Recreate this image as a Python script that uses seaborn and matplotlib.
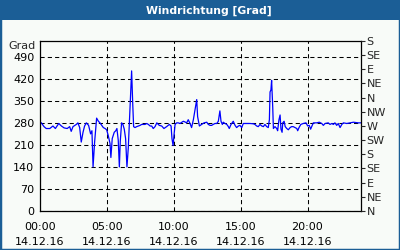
import numpy as np
import pandas as pd
import matplotlib
matplotlib.use("Agg")
import matplotlib.pyplot as plt
from matplotlib.patches import Rectangle
import seaborn as sns

# ---- data (minutes since 00:00 on 14.12.16, wind direction in degrees) ----
minutes = [0, 6, 18, 28, 44, 58, 69, 84, 96, 108, 122, 133, 140, 148, 163, 170, 178, 185, 193,
           200, 208, 218, 227, 233, 238, 245, 254, 262, 269, 277, 284, 292, 299, 306, 314,
           318, 324, 333, 340, 345, 351, 356, 360, 366, 372, 378, 384, 390, 396, 402, 407,
           411, 416, 420, 426, 434, 441, 449, 456, 471, 479, 486, 494, 501, 508, 516, 524,
           535, 546, 556, 568, 580, 588, 592, 597, 601, 606, 613, 620, 628, 643, 650, 658,
           665, 673, 680, 688, 694, 703, 707, 715, 725, 736, 748, 755, 763, 770, 777, 785,
           793, 800, 807, 812, 818, 822, 830, 838, 845, 849, 857, 867, 875, 882, 890, 897,
           905, 912, 927, 942, 957, 964, 972, 979, 987, 995, 1002, 1009, 1017, 1024, 1029,
           1032, 1036, 1039, 1044, 1047, 1054, 1062, 1066, 1072, 1077, 1081, 1086, 1089,
           1095, 1100, 1107, 1114, 1122, 1129, 1136, 1144, 1152, 1156, 1162, 1170, 1181,
           1193, 1201, 1208, 1214, 1226, 1241, 1253, 1264, 1271, 1279, 1293, 1301, 1309,
           1316, 1323, 1331, 1338, 1346, 1354, 1361, 1376, 1391, 1406, 1428, 1440]
direction = [282, 280, 268, 262, 262, 270, 262, 278, 270, 264, 262, 268, 253, 268, 275, 280, 265,
             219, 250, 270, 280, 272, 245, 255, 140, 219, 295, 285, 280, 272, 265, 262, 258,
             240, 215, 170, 230, 250, 255, 262, 225, 140, 220, 280, 275, 260, 230, 140, 200,
             300, 390, 445, 340, 268, 265, 268, 270, 272, 275, 275, 278, 275, 270, 270, 262,
             268, 280, 272, 270, 262, 268, 275, 270, 230, 208, 240, 275, 280, 280, 278, 285,
             283, 280, 290, 278, 265, 290, 315, 354, 300, 270, 275, 280, 282, 275, 272, 272,
             275, 278, 278, 285, 318, 285, 275, 282, 278, 275, 268, 262, 275, 285, 272, 265,
             270, 272, 265, 278, 278, 278, 277, 275, 270, 268, 275, 270, 268, 275, 268, 265,
             290, 378, 385, 415, 330, 262, 268, 262, 255, 290, 305, 260, 250, 280, 285, 268,
             262, 258, 265, 268, 268, 265, 262, 255, 265, 275, 278, 280, 270, 272, 260, 280,
             280, 282, 278, 272, 278, 280, 275, 278, 275, 280, 272, 278, 265, 275, 280, 278,
             280, 282, 280, 280]

x_tick_hours = [0, 5, 10, 15, 20]
x_tick_labels = ["00:00\n14.12.16", "05:00\n14.12.16", "10:00\n14.12.16",
                 "15:00\n14.12.16", "20:00\n14.12.16"]
y_ticks = [0, 70, 140, 210, 280, 350, 420, 490]
compass_ticks = [0, 45, 90, 135, 180, 225, 270, 315, 360, 405, 450, 495, 540]
compass_labels = ["N", "NE", "E", "SE", "S", "SW", "W", "NW", "N", "NE", "E", "SE", "S"]
title = "Windrichtung [Grad]"
unit_label = "Grad"

# ---- style ----
sns.set_style("white")
plt.rcParams['font.family'] = ['DejaVu Sans']
plt.rcParams['font.size'] = 8

W, H = 400, 250
bg = "#f8fbf8"
bar = "#1b5e96"

fig = plt.figure(figsize=(W / 100, H / 100), dpi=100, facecolor=bg)

# title bar and frame
fig.patches.append(Rectangle((0, 1 - 20 / H), 1, 20 / H, transform=fig.transFigure,
                             facecolor=bar, edgecolor="none", zorder=0))
fig.patches.append(Rectangle((0, 0), 1, 1, transform=fig.transFigure, fill=False,
                             edgecolor=bar, linewidth=2.5, zorder=5))
fig.text(209 / W, 1 - 10.5 / H, title, color="white", fontweight="bold",
         fontsize=7.8, ha="center", va="center")

ax_l, ax_r, ax_t, ax_b = 40, 361, 41, 211
ax = fig.add_axes([ax_l / W, 1 - ax_b / H, (ax_r - ax_l) / W, (ax_b - ax_t) / H])
ax.set_facecolor(bg)

df = pd.DataFrame({"hour": np.array(minutes) / 60.0, "dir": direction})
sns.lineplot(data=df, x="hour", y="dir", ax=ax, color="#0000ff", linewidth=0.9,
             estimator=None, sort=False)

ax.set_xlim(0, 24)
ax.set_ylim(0, 540)
ax.set_xlabel("")
ax.set_ylabel("")

ax.set_yticks(y_ticks)
ax.set_yticklabels([str(v) for v in y_ticks])
ax.set_xticks(x_tick_hours)
ax.set_xticklabels(x_tick_labels, linespacing=1.55)
ax.set_xticks(range(0, 25), minor=True)

ax.tick_params(axis="y", which="major", length=0, pad=4, labelsize=8, colors="black")
ax.tick_params(axis="x", which="major", length=3, width=0.8, direction="out",
               pad=5, labelsize=8, colors="black")
ax.tick_params(axis="x", which="minor", length=3, width=0.8, direction="out")

ax.grid(True, which="major", color="black", linestyle=(0, (4, 3)), linewidth=0.75)
for s in ax.spines.values():
    s.set_color("black")
    s.set_linewidth(0.9)

# right compass axis
ax2 = ax.twinx()
ax2.set_ylim(0, 540)
ax2.set_yticks(compass_ticks)
ax2.set_yticklabels(compass_labels)
ax2.tick_params(axis="y", length=3, width=0.8, direction="out", pad=1, labelsize=8)
ax2.grid(False)
for s in ax2.spines.values():
    s.set_visible(False)

fig.text(36 / W, 1 - 46 / H, unit_label, ha="right", va="center", fontsize=8)

fig.savefig("out.png", dpi=100, facecolor=bg)
